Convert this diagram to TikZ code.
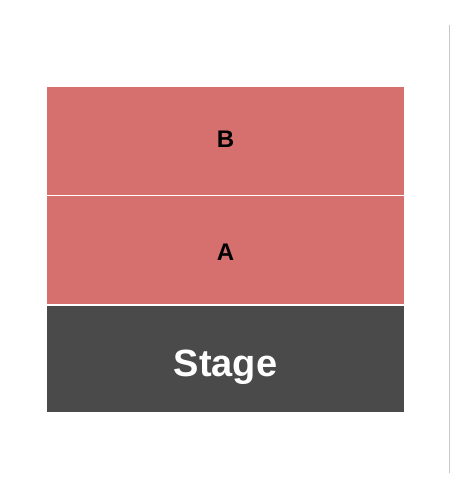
\documentclass[tikz,border=0pt]{standalone}
\usepackage{fontspec}
\setmainfont{Liberation Sans}
\definecolor{seatred}{RGB}{214,112,111}
\definecolor{stagegray}{RGB}{74,74,74}
\definecolor{edgegray}{RGB}{200,200,200}
\tikzset{
    section/.style={fill=seatred},
    sectionlabel/.style={font=\bfseries\fontsize{24}{24}\selectfont,text=black},
}
\begin{document}
\begin{tikzpicture}[x=1pt,y=-1pt]

    \useasboundingbox[fill=white] (0,0) rectangle (450,500);

    % seating sections
    \fill[section] (47,87) rectangle (404,194.5);
    \fill[section] (47,196) rectangle (404,304);
    \fill[stagegray] (47,305.5) rectangle (404,412);

    \node[sectionlabel] (B) at (225.5,139.5) {B};
    \node[sectionlabel] (A) at (225.5,252.5) {A};
    \node[font=\bfseries\fontsize{38}{38}\selectfont,text=white] (stage) at (225.5,367) {Stage};

    \draw[line width=1pt,edgegray] (449,25) -- (449,473);
\end{tikzpicture}
\end{document}
